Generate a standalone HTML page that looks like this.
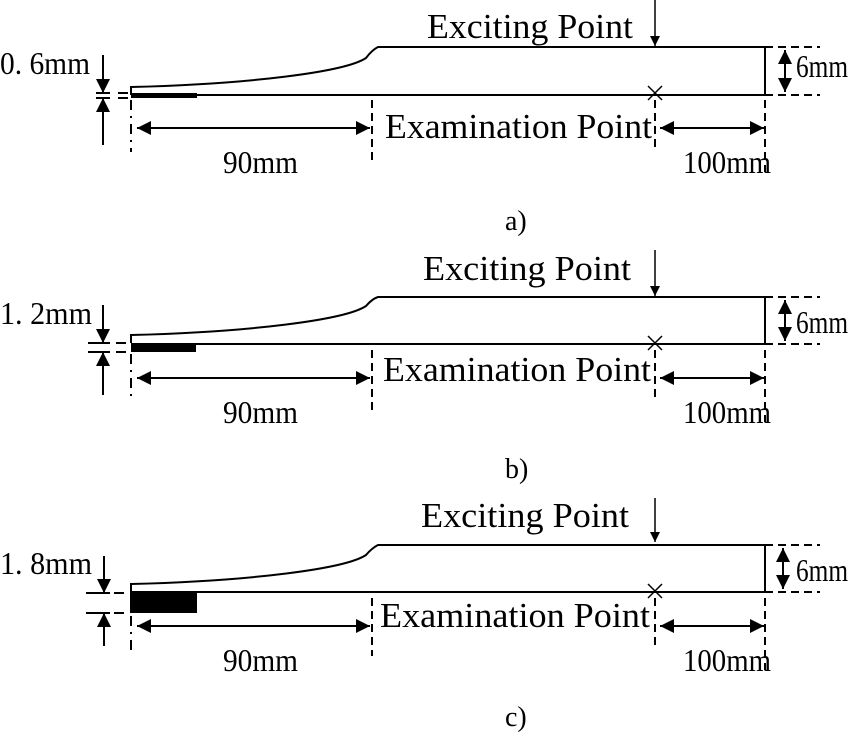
<!DOCTYPE html>
<html><head><meta charset="utf-8"><style>html,body{margin:0;padding:0;background:#fff}</style></head>
<body>
<svg width="850" height="736" viewBox="0 0 850 736" xmlns="http://www.w3.org/2000/svg" font-family="Liberation Serif, serif" fill="#000">
<defs>
<marker id="ah" viewBox="0 0 10 10" refX="10" refY="5" markerWidth="10" markerHeight="10" markerUnits="userSpaceOnUse" orient="auto-start-reverse"><path d="M0,0 L10,5 L0,10 z"/></marker>
<marker id="ab" viewBox="0 0 10 10" refX="10" refY="5" markerWidth="20" markerHeight="14" markerUnits="userSpaceOnUse" orient="auto-start-reverse"><path d="M0,0 L10,5 L0,10 z"/></marker>
</defs>

<g>
  <g stroke="#000" fill="none" stroke-width="2">
    <path d="M131,95 L131,87 C250,84 345,72 366,58 Q372,50 378,47 L765,47 L765,95 L131,95"/>
    <line x1="655" y1="0" x2="655" y2="46" marker-end="url(#ah)" stroke-width="1.5"/>
    <path d="M648,86 L662,100 M662,86 L648,100" stroke-width="1.5"/>
    <line x1="765" y1="47" x2="820" y2="47" stroke-dasharray="8,5"/>
    <line x1="765" y1="95" x2="820" y2="95" stroke-dasharray="8,5"/>
    <line x1="785" y1="50" x2="785" y2="92" marker-start="url(#ab)" marker-end="url(#ab)"/>
    <line x1="372" y1="100" x2="372" y2="160" stroke-dasharray="8,5"/>
    <line x1="655" y1="100" x2="655" y2="152" stroke-dasharray="8,5"/>
    <line x1="765" y1="100" x2="765" y2="172" stroke-dasharray="8,5"/>
    <line x1="131" y1="100" x2="131" y2="152" stroke-dasharray="10,6,2,6"/>
    <line x1="137" y1="128" x2="370" y2="128" marker-start="url(#ab)" marker-end="url(#ab)"/>
    <line x1="660" y1="128" x2="764" y2="128" marker-start="url(#ab)" marker-end="url(#ab)"/>
    <line x1="103" y1="55" x2="103" y2="93" marker-end="url(#ab)"/>
    <line x1="103" y1="145" x2="103" y2="98" marker-end="url(#ab)"/>
    <line x1="96" y1="93" x2="110" y2="93"/><line x1="96" y1="98" x2="110" y2="98"/>
    <line x1="118" y1="93" x2="128" y2="93"/><line x1="118" y1="98" x2="128" y2="98"/>
  </g>
  <rect x="131" y="93" width="66" height="5"/>
  <text x="427" y="38" font-size="35" textLength="206" lengthAdjust="spacingAndGlyphs">Exciting Point</text>
  <text x="385" y="138" font-size="35" textLength="267" lengthAdjust="spacingAndGlyphs">Examination Point</text>
  <text x="223" y="173" font-size="32" textLength="75" lengthAdjust="spacingAndGlyphs">90mm</text>
  <text x="683" y="173" font-size="32" textLength="88" lengthAdjust="spacingAndGlyphs">100mm</text>
  <text x="796" y="77" font-size="32" textLength="52" lengthAdjust="spacingAndGlyphs">6mm</text>
  <text x="0" y="74" font-size="32" textLength="90" lengthAdjust="spacingAndGlyphs">0. 6mm</text>
  <text x="505" y="230" font-size="28">a)</text>
</g>

<g transform="translate(0,250)">
  <g stroke="#000" fill="none" stroke-width="2">
    <path d="M131,93 L131,85 C250,82 345,70 366,56 Q372,49 378,47 L765,47 L765,94 L131,94"/>
    <line x1="655" y1="0" x2="655" y2="46" marker-end="url(#ah)" stroke-width="1.5"/>
    <path d="M648,86 L662,100 M662,86 L648,100" stroke-width="1.5"/>
    <line x1="765" y1="47" x2="820" y2="47" stroke-dasharray="8,5"/>
    <line x1="765" y1="94" x2="820" y2="94" stroke-dasharray="8,5"/>
    <line x1="785" y1="50" x2="785" y2="91" marker-start="url(#ab)" marker-end="url(#ab)"/>
    <line x1="372" y1="100" x2="372" y2="160" stroke-dasharray="8,5"/>
    <line x1="655" y1="100" x2="655" y2="152" stroke-dasharray="8,5"/>
    <line x1="765" y1="100" x2="765" y2="172" stroke-dasharray="8,5"/>
    <line x1="131" y1="104" x2="131" y2="152" stroke-dasharray="10,6,2,6"/>
    <line x1="137" y1="128" x2="370" y2="128" marker-start="url(#ab)" marker-end="url(#ab)"/>
    <line x1="660" y1="128" x2="764" y2="128" marker-start="url(#ab)" marker-end="url(#ab)"/>
    <line x1="103" y1="55" x2="103" y2="93" marker-end="url(#ab)"/>
    <line x1="103" y1="145" x2="103" y2="102" marker-end="url(#ab)"/>
    <line x1="88" y1="93" x2="110" y2="93"/><line x1="88" y1="102" x2="110" y2="102"/>
    <line x1="116" y1="93" x2="126" y2="93"/><line x1="116" y1="102" x2="126" y2="102"/>
  </g>
  <rect x="131" y="93" width="65" height="9"/>
  <text x="423" y="30" font-size="35" textLength="208" lengthAdjust="spacingAndGlyphs">Exciting Point</text>
  <text x="383" y="131" font-size="35" textLength="268" lengthAdjust="spacingAndGlyphs">Examination Point</text>
  <text x="223" y="173" font-size="32" textLength="75" lengthAdjust="spacingAndGlyphs">90mm</text>
  <text x="683" y="173" font-size="32" textLength="88" lengthAdjust="spacingAndGlyphs">100mm</text>
  <text x="796" y="83" font-size="32" textLength="52" lengthAdjust="spacingAndGlyphs">6mm</text>
  <text x="0" y="74" font-size="32" textLength="92" lengthAdjust="spacingAndGlyphs">1. 2mm</text>
  <text x="505" y="228" font-size="28">b)</text>
</g>

<g transform="translate(0,498)">
  <g stroke="#000" fill="none" stroke-width="2">
    <path d="M131,94 L131,86 C250,83 345,71 366,57 Q372,50 378,47 L765,47 L765,94 L131,94"/>
    <line x1="655" y1="0" x2="655" y2="44" marker-end="url(#ah)" stroke-width="1.5"/>
    <path d="M648,86 L662,100 M662,86 L648,100" stroke-width="1.5"/>
    <line x1="765" y1="47" x2="820" y2="47" stroke-dasharray="8,5"/>
    <line x1="765" y1="94" x2="820" y2="94" stroke-dasharray="8,5"/>
    <line x1="783" y1="50" x2="783" y2="91" marker-start="url(#ab)" marker-end="url(#ab)"/>
    <line x1="372" y1="100" x2="372" y2="158" stroke-dasharray="8,5"/>
    <line x1="655" y1="100" x2="655" y2="150" stroke-dasharray="8,5"/>
    <line x1="765" y1="100" x2="765" y2="172" stroke-dasharray="8,5"/>
    <line x1="131" y1="118" x2="131" y2="152" stroke-dasharray="10,6,2,6"/>
    <line x1="137" y1="128" x2="370" y2="128" marker-start="url(#ab)" marker-end="url(#ab)"/>
    <line x1="660" y1="128" x2="764" y2="128" marker-start="url(#ab)" marker-end="url(#ab)"/>
    <line x1="104" y1="58" x2="104" y2="95" marker-end="url(#ab)"/>
    <line x1="104" y1="148" x2="104" y2="115" marker-end="url(#ab)"/>
    <line x1="86" y1="95" x2="110" y2="95"/><line x1="86" y1="115" x2="110" y2="115"/>
    <line x1="114" y1="95" x2="124" y2="95"/><line x1="114" y1="115" x2="124" y2="115"/>
  </g>
  <rect x="130" y="93" width="67" height="22"/>
  <text x="421" y="29" font-size="35" textLength="208" lengthAdjust="spacingAndGlyphs">Exciting Point</text>
  <text x="380" y="129" font-size="35" textLength="270" lengthAdjust="spacingAndGlyphs">Examination Point</text>
  <text x="223" y="173" font-size="32" textLength="75" lengthAdjust="spacingAndGlyphs">90mm</text>
  <text x="683" y="173" font-size="32" textLength="88" lengthAdjust="spacingAndGlyphs">100mm</text>
  <text x="796" y="83" font-size="32" textLength="52" lengthAdjust="spacingAndGlyphs">6mm</text>
  <text x="0" y="76" font-size="32" textLength="92" lengthAdjust="spacingAndGlyphs">1. 8mm</text>
  <text x="505" y="228" font-size="28">c)</text>
</g>
</svg>
</body></html>
